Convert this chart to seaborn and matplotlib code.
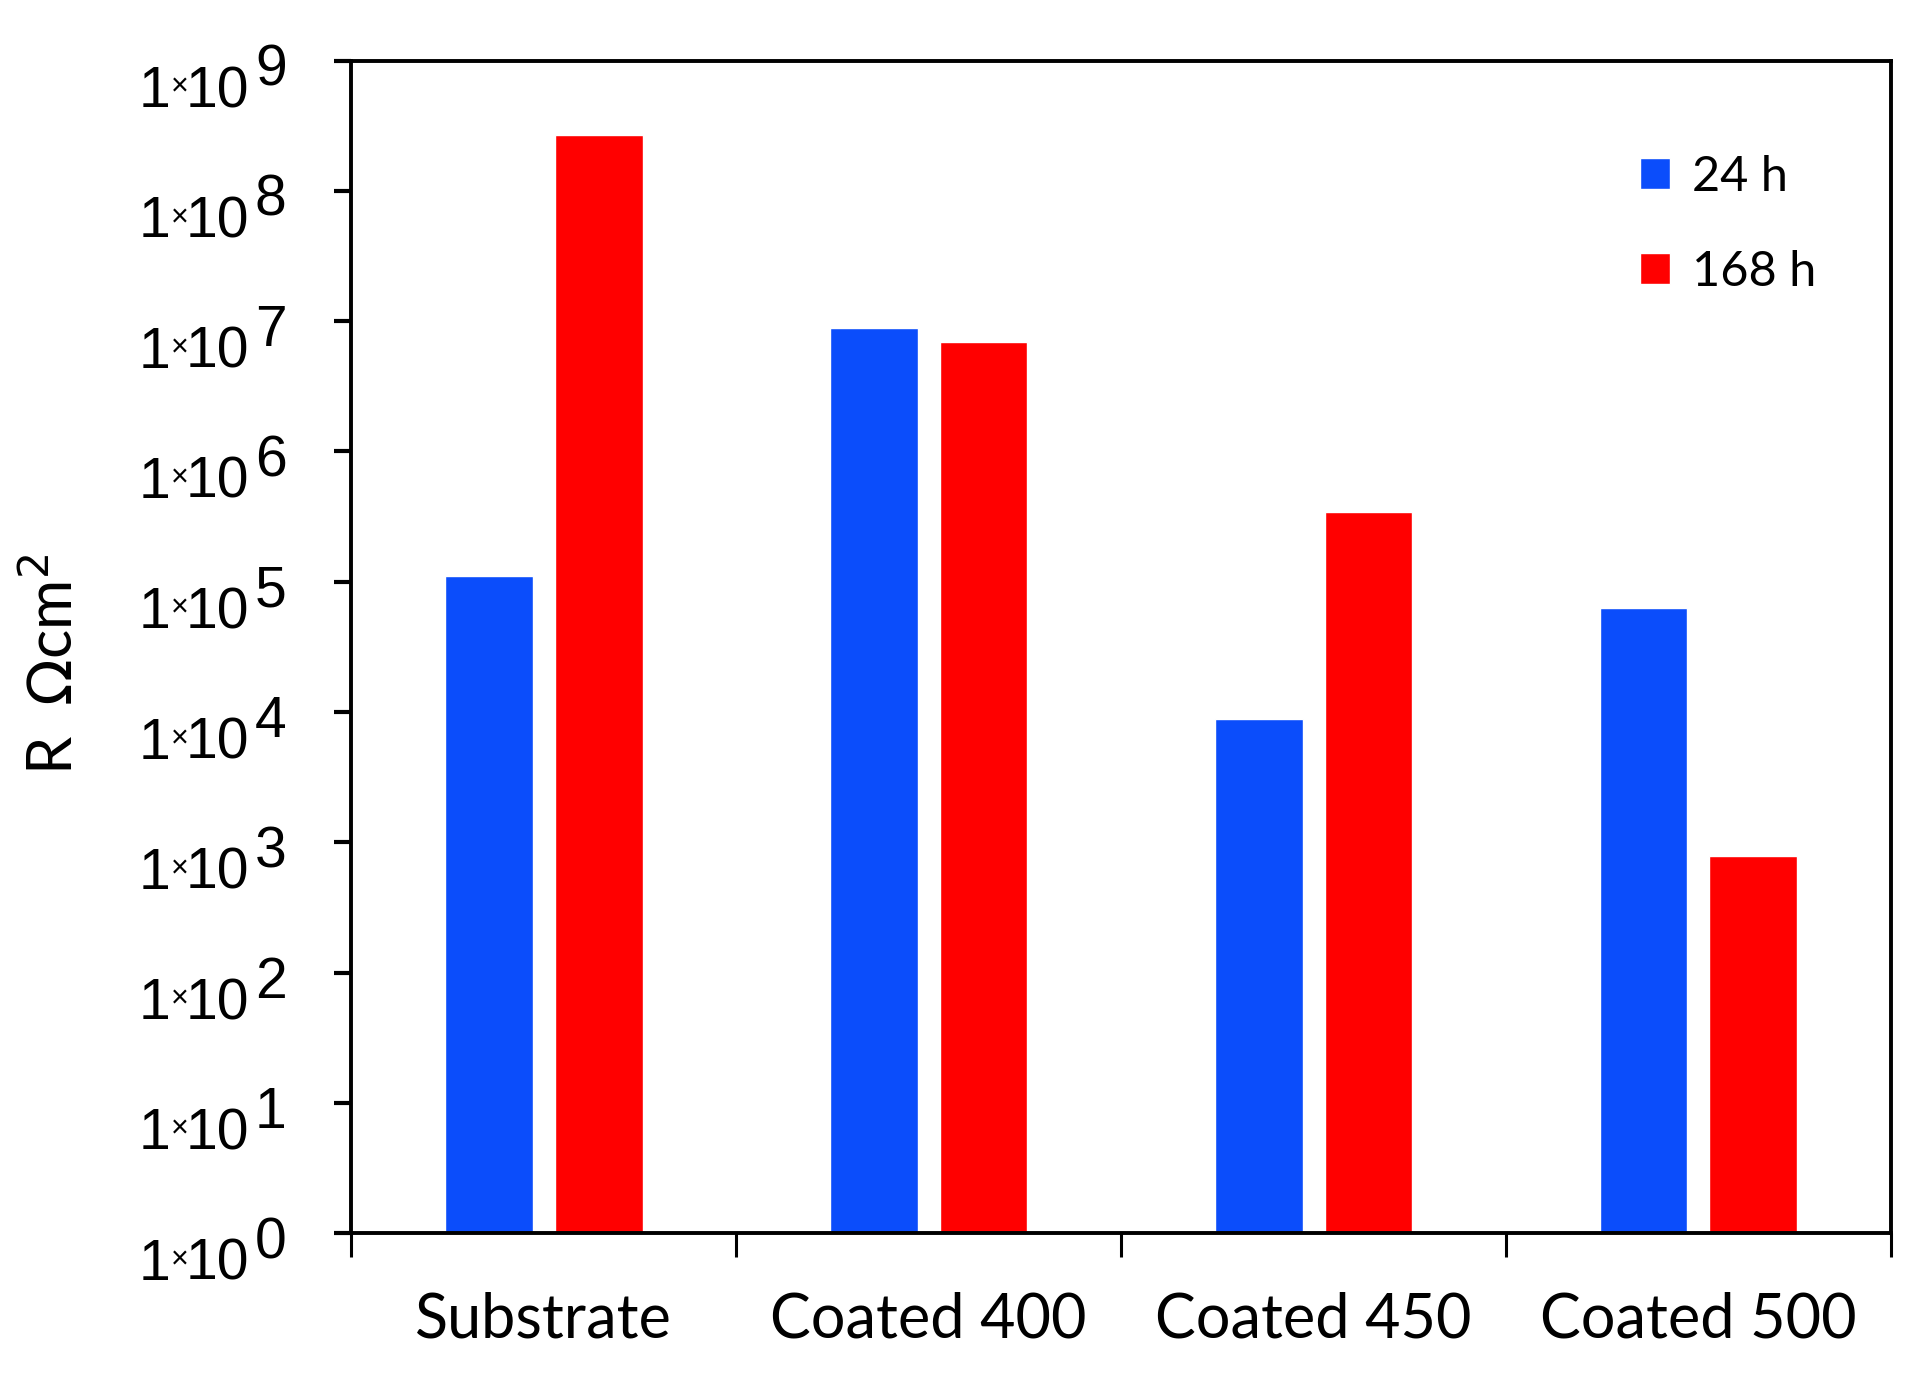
import math
import matplotlib
matplotlib.use("Agg")
import matplotlib.pyplot as plt
import matplotlib.transforms as mtransforms
import seaborn as sns
import pandas as pd
from matplotlib.ticker import FixedLocator, FuncFormatter, NullLocator

categories = ["Substrate", "Coated 400", "Coated 450", "Coated 500"]
series_names = ["24 h", "168 h"]
values_24h = [1.1e5, 8.9e6, 8.9e3, 6.3e4]
values_168h = [2.7e8, 6.9e6, 3.4e5, 7.9e2]
colors = ["#0B4DFB", "#FF0000"]
ytick_exps = list(range(0, 10))

df = pd.DataFrame({
    "Sample": categories * 2,
    "Time": [series_names[0]] * 4 + [series_names[1]] * 4,
    "R": values_24h + values_168h,
})

sns.set_theme(style="white")
plt.rcParams['font.family'] = ['Liberation Sans', 'DejaVu Sans']
plt.rcParams['text.color'] = 'black'
plt.rcParams['axes.labelcolor'] = 'black'
plt.rcParams['xtick.color'] = 'black'
plt.rcParams['ytick.color'] = 'black'

fig = plt.figure(figsize=(19.1, 13.77), dpi=100)
ax = fig.add_axes([0.184, 0.1045, 0.806, 0.8515])
ax.set_yscale('log')

sns.barplot(data=df, x="Sample", y="R", hue="Time", order=categories,
            hue_order=series_names, palette=colors, width=0.57, gap=0.2,
            saturation=1, ax=ax, legend=True)

ax.set_ylim(1, 1e9)
ax.set_xlim(-0.5, 3.5)

# y ticks: "10" as tick label; "1", small "×" and full-size raised exponent as texts
FS = 41
ax.yaxis.set_major_locator(FixedLocator([10.0 ** e for e in ytick_exps]))
ax.yaxis.set_minor_locator(NullLocator())
ax.yaxis.set_major_formatter(FuncFormatter(lambda v, p: "10"))
ax.tick_params(axis='y', labelsize=FS, length=12, width=3, direction='out',
               left=True, pad=61.5)
dy_digits = -18.4
shift = mtransforms.ScaledTranslation(0, dy_digits / 72.0, fig.dpi_scale_trans)
for lab in ax.get_yticklabels():
    lab.set_transform(lab.get_transform() + shift)
for e in ytick_exps:
    common = dict(xy=(0, 10.0 ** e), xycoords=('axes fraction', 'data'),
                  textcoords='offset points', color='black', annotation_clip=False)
    ax.annotate("1", xytext=(-130.5, dy_digits), ha='right', va='center_baseline',
                fontsize=FS, **common)
    ax.annotate("\u00d7", xytext=(-123.5, -17), ha='center', va='center_baseline',
                fontsize=22, **common)
    ax.annotate(str(e), xytext=(-69.5, -2.9), ha='left', va='center_baseline',
                fontsize=FS, **common)

# x: ticks at group boundaries, labels at centers
ax.set_xticks([i for i in range(len(categories))])
ax.set_xticklabels(categories, fontsize=44, family=['Lato', 'DejaVu Sans'])
ax.tick_params(axis='x', which='major', length=0, pad=42)
ax.set_xticks([i - 0.5 for i in range(len(categories) + 1)], minor=True)
ax.tick_params(axis='x', which='minor', length=17, width=2.2, direction='out',
               bottom=True)

ax.set_xlabel("")
ax.set_ylabel(r"R  $\Omega$cm$^{2}$", fontsize=44, family=['Lato', 'DejaVu Sans'])
ax.yaxis.set_label_coords(-0.174, 0.485)

for s in ax.spines.values():
    s.set_visible(True)
    s.set_color("black")
    s.set_linewidth(2.8)

leg = ax.legend(loc="upper right", bbox_to_anchor=(0.98, 0.957), frameon=False,
                handlelength=0.62, handleheight=0.62, handletextpad=0.45,
                labelspacing=1.05, prop={'family': 'Lato', 'size': 35})

fig.savefig("out.png", dpi=100)
